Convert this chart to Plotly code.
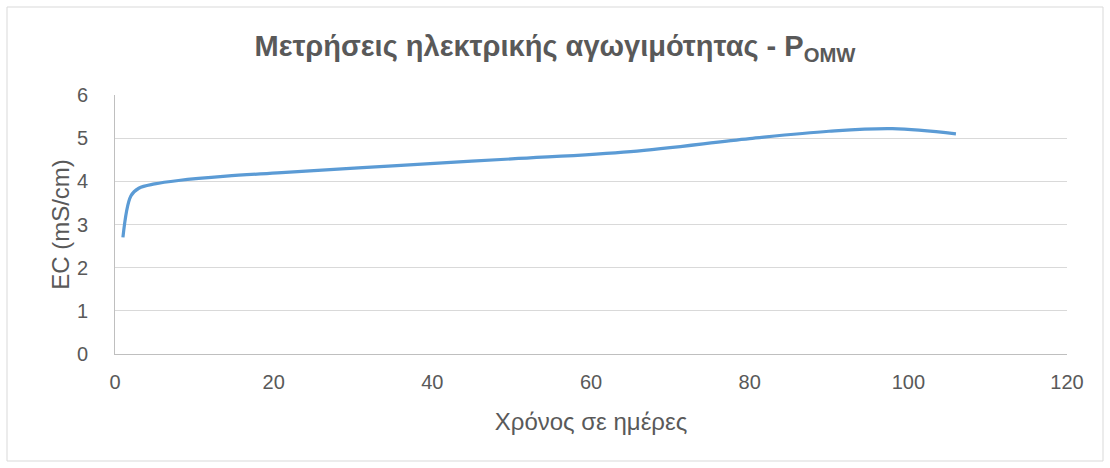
import plotly.graph_objects as go

# Electrical conductivity measurements over time
days = [1, 2, 3, 5, 8, 14, 21, 35, 50, 65, 80, 90, 98, 106]
ec_values = [2.7, 3.66, 3.84, 3.94, 4.02, 4.12, 4.2, 4.36, 4.52, 4.69, 4.99, 5.16, 5.22, 5.1]

x_ticks = [0, 20, 40, 60, 80, 100, 120]
y_ticks = [0, 1, 2, 3, 4, 5, 6]

FONT = "Liberation Sans"
GREY = "#595959"

fig = go.Figure()
fig.add_trace(go.Scatter(
    x=days, y=ec_values, mode="lines",
    line=dict(color="#5b9bd5", width=3.2, shape="spline", smoothing=1.0),
    showlegend=False, hoverinfo="x+y",
))

W, H = 1110, 468
L, R, T, B = 115, 43, 95, 114
pw, ph = W - L - R, H - T - B

def px_x(p):
    return (p - L) / pw

def px_y(p):
    return (H - B - p) / ph

fig.update_layout(
    width=W, height=H,
    margin=dict(l=L, r=R, t=T, b=B),
    paper_bgcolor="white", plot_bgcolor="white",
    font=dict(family=FONT, color=GREY),
    title=dict(
        text="<b>Μετρήσεις ηλεκτρικής αγωγιμότητας - P<sub>OMW</sub></b>",
        x=0.5, xref="container", xanchor="center",
        y=1 - 46 / H, yref="container", yanchor="middle",
        font=dict(family=FONT, size=29, color=GREY),
    ),
    xaxis=dict(
        range=[0, 120], tickvals=x_ticks, showgrid=False,
        showline=True, linecolor="#bfbfbf", linewidth=1,
        ticks="outside", ticklen=10, tickcolor="rgba(0,0,0,0)",
        tickfont=dict(family=FONT, size=20, color=GREY),
        title=dict(text="Χρόνος σε ημέρες", standoff=21,
                   font=dict(family=FONT, size=24, color=GREY)),
        zeroline=False, fixedrange=True,
    ),
    yaxis=dict(
        range=[0, 6], tickvals=y_ticks, showgrid=True,
        gridcolor="#d9d9d9", gridwidth=1,
        showline=True, linecolor="#bfbfbf", linewidth=1,
        ticks="outside", ticklen=22, tickcolor="rgba(0,0,0,0)",
        tickfont=dict(family=FONT, size=20, color=GREY),
        title=dict(text="EC (mS/cm)", standoff=0,
                   font=dict(family=FONT, size=24, color=GREY)),
        zeroline=False, fixedrange=True,
    ),
    shapes=[dict(
        type="rect", xref="paper", yref="paper",
        x0=px_x(7), x1=px_x(1103), y0=px_y(461), y1=px_y(7),
        line=dict(color="#d9d9d9", width=1), fillcolor="rgba(0,0,0,0)",
        layer="below",
    )],
)

fig.write_html("out.html")
